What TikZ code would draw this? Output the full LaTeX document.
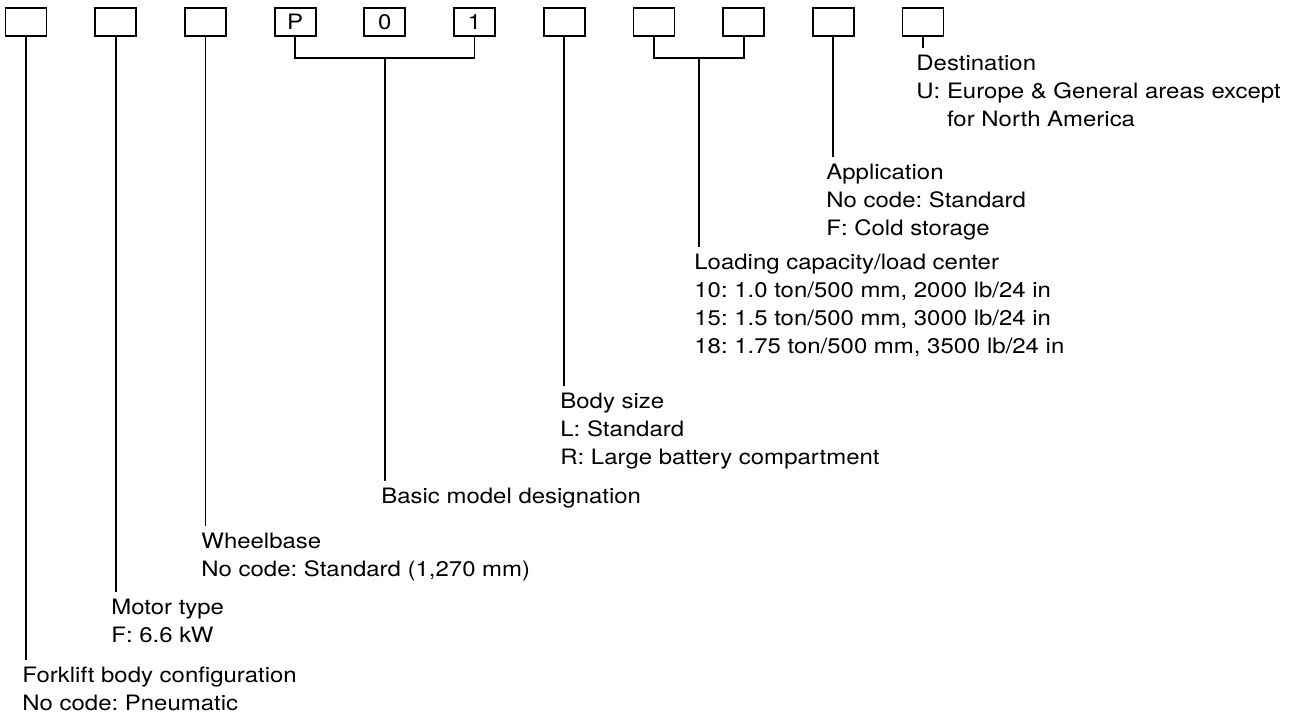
\documentclass[tikz,border=0pt]{standalone}
\usepackage{fontspec}
\newfontfamily\manualfont{TeX Gyre Heros}[FakeStretch=1.13]
\usetikzlibrary{positioning,calc}
\frenchspacing

\begin{document}
\begin{tikzpicture}[
  x=0.5pt, y=-0.5pt,
  node distance=44.85pt, on grid,
  every node/.style={font=\manualfont\fontsize{10.6}{14}\selectfont},
  codebox/.style={draw, line width=0.9pt, minimum width=20.5pt, minimum height=14pt, inner sep=0pt},
  legend/.style={anchor=north west, align=left, inner xsep=0pt, inner ysep=3.5pt},
  lead/.style={draw, line width=0.9pt}
]
  \fill[white] (0,0) rectangle (1290,720);

  \node[codebox] (cfg) at (26,22) {};
  \node[codebox, right=of cfg] (motor) {};
  \node[codebox, right=of motor] (wheel) {};
  \node[codebox, right=of wheel] (codeP) {P};
  \node[codebox, right=of codeP] (codeZero) {0};
  \node[codebox, right=of codeZero] (codeOne) {1};
  \node[codebox, right=of codeOne] (body) {};
  \node[codebox, right=of body] (capA) {};
  \node[codebox, right=of capA] (capB) {};
  \node[codebox, right=of capB] (appl) {};
  \node[codebox, right=of appl] (dest) {};

  \coordinate (basicjoin) at ($(codeZero.south)+(0,21)$);
  \coordinate (capjoin) at ($(capA.south)!0.5!(capB.south)+(0,21)$);

  \node[legend] (destnote) at (916,48) {Destination\\U: Europe \& General areas except\\\hphantom{U:~}for North America};
  \node[legend] (applnote) at (826,157) {Application\\No code: Standard\\F: Cold storage};
  \node[legend] (capnote) at (694,247) {Loading capacity/load center\\10: 1.0 ton/500 mm, 2000 lb/24 in\\15: 1.5 ton/500 mm, 3000 lb/24 in\\18: 1.75 ton/500 mm, 3500 lb/24 in};
  \node[legend] (bodynote) at (560,386) {Body size\\L: Standard\\R: Large battery compartment};
  \node[legend] (basicnote) at (381,481) {Basic model designation};
  \node[legend] (wheelnote) at (201,526) {Wheelbase\\No code: Standard (1,270 mm)};
  \node[legend] (motornote) at (111,592) {Motor type\\F: 6.6 kW};
  \node[legend] (cfgnote) at (22,660) {Forklift body configuration\\No code: Pneumatic};

  \draw[lead] (cfg) -- (cfg |- cfgnote.north);
  \draw[lead] (motor) -- (motor |- motornote.north);
  \draw[lead] (wheel) -- (wheel |- wheelnote.north);
  \draw[lead] (codeP.south) |- (basicjoin) -| (codeOne.south);
  \draw[lead] (basicjoin) -- (basicjoin |- basicnote.north);
  \draw[lead] (body) -- (body |- bodynote.north);
  \draw[lead] (capA.south) |- (capjoin) -| (capB.south);
  \draw[lead] (capjoin) -- (capjoin |- capnote.north);
  \draw[lead] (appl) -- (appl |- applnote.north);
  \draw[lead] (dest) -- (dest |- destnote.north);
\end{tikzpicture}
\end{document}
